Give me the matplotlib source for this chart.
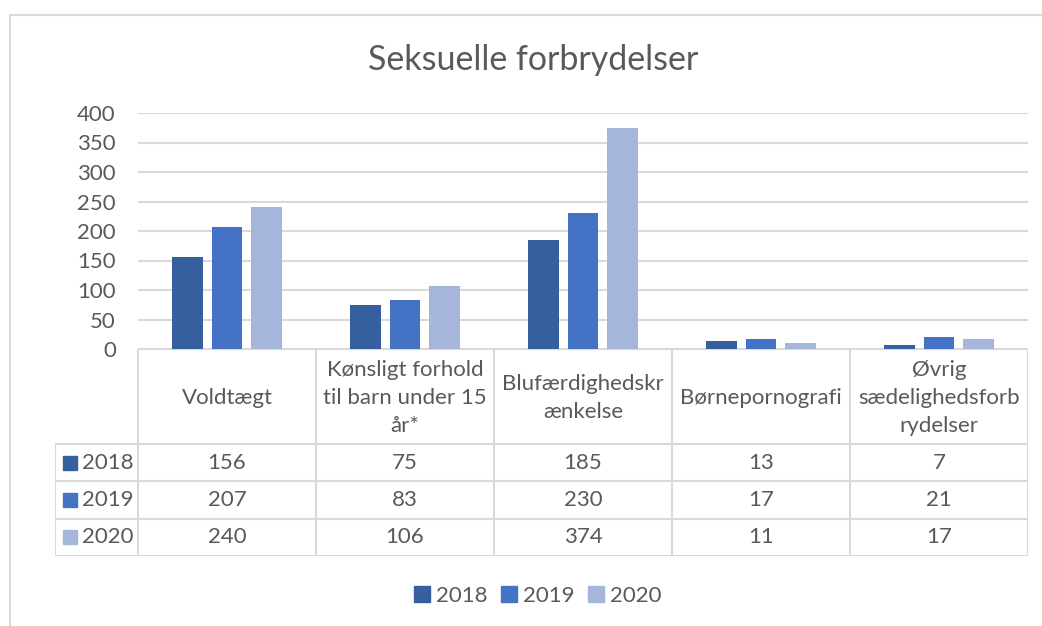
import matplotlib.pyplot as plt
from matplotlib.patches import Patch, Rectangle
import numpy as np

plt.rcParams['font.family'] = ['Lato', 'DejaVu Sans']

# data
categories = ['Voldtægt', 'Kønsligt forhold\ntil barn under 15\når*',
              'Blufærdighedskr\nænkelse', 'Børnepornografi',
              'Øvrig\nsædelighedsforb\nrydelser']
years = ['2018', '2019', '2020']
v2018 = [156, 75, 185, 13, 7]
v2019 = [207, 83, 230, 17, 21]
v2020 = [240, 106, 374, 11, 17]
series = [v2018, v2019, v2020]
colors = ['#355f9f', '#4472c4', '#a6b5da']

W, H = 1042, 626
txt = '#595959'
grid = '#d9d9d9'
fs = 16

fig = plt.figure(figsize=(W / 100, H / 100), dpi=100)

def fx(x):
    return x / W

def fy(y):
    return 1 - y / H

# chart border (only left/top visible in crop)
fig.patches.append(Rectangle((fx(9.5), fy(640)), fx(1060) - fx(9.5), fy(14.5) - fy(640),
                             transform=fig.transFigure, fill=False, ec=grid, lw=1.5))

fig.text(fx(533), fy(60), 'Seksuelle forbrydelser', ha='center', va='center',
         fontsize=24.5, color=txt)

# bar axes
ax = fig.add_axes([fx(138), fy(349), fx(1028) - fx(138), fy(113) - fy(349)])
x = np.arange(len(categories))
off = 0.222
bw = 0.174
for i, (vals, c) in enumerate(zip(series, colors)):
    ax.bar(x + (i - 1) * off, vals, bw, color=c, zorder=3)
ax.set_xlim(-0.5, len(categories) - 0.5)
ax.set_ylim(0, 400)
ax.set_yticks(range(0, 401, 50))
ax.yaxis.grid(True, color=grid, lw=1.5, zorder=0)
ax.set_xticks([])
for s in ax.spines.values():
    s.set_visible(False)
ax.tick_params(axis='y', length=0, pad=16, labelsize=fs, labelcolor=txt)

# data table
tab = fig.add_axes([fx(55), fy(556), fx(1028) - fx(55), fy(349) - fy(556)])
left = -0.5 - 83 / 178
tab.set_xlim(left, len(categories) - 0.5)
tab.set_ylim(207, 0)
tab.axis('off')
rows = [0, 95, 132.3, 169.7, 207]
lkw = dict(color=grid, lw=1.5, solid_capstyle='butt')
# horizontal lines
tab.plot([-0.5, 4.5], [rows[0], rows[0]], **lkw)
for r in rows[1:]:
    tab.plot([left, 4.5], [r, r], **lkw)
# vertical lines
for cx in np.arange(-0.5, 4.6, 1):
    tab.plot([cx, cx], [0, 207], **lkw)
tab.plot([left, left], [95, 207], **lkw)

for j, cat in enumerate(categories):
    tab.text(j, 49, cat, ha='center', va='center', fontsize=fs, color=txt,
             linespacing=1.5)
for i, (yr, vals, c) in enumerate(zip(years, series, colors)):
    yc = (rows[i + 1] + rows[i + 2]) / 2
    tab.add_patch(Rectangle((left + 8 / 178, yc - 7), 14 / 178, 14, color=c))
    tab.text(left + 27 / 178, yc, yr, ha='left', va='center', fontsize=fs, color=txt)
    for j, v in enumerate(vals):
        tab.text(j, yc, str(v), ha='center', va='center', fontsize=fs, color=txt)

# legend
handles = [Patch(color=c, label=y) for c, y in zip(colors, years)]
fig.legend(handles=handles, loc='center', bbox_to_anchor=(fx(538), fy(596)), ncol=3,
           frameon=False, fontsize=fs, labelcolor=txt, handlelength=0.7,
           handleheight=0.7, handletextpad=0.3, columnspacing=0.6)

fig.savefig('out.png', dpi=100)
